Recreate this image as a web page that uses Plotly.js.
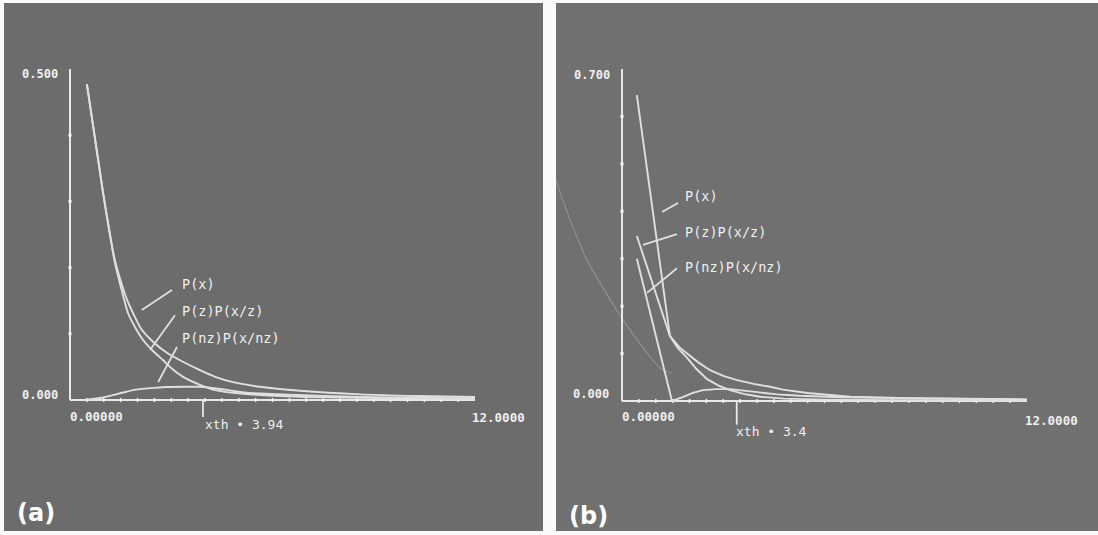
<!DOCTYPE html>
<html><head><meta charset="utf-8">
<script src="https://cdn.plot.ly/plotly-3.0.1.min.js"></script>
<style>html,body{margin:0;padding:0;background:#fafafa;}#chart{width:1098px;height:535px;}</style>
</head><body><div id="chart"></div>
<script>
// ---------- Panel (a) data ----------
const a_Px_x   = [0.50, 0.98, 1.33, 1.50, 1.70, 1.87, 2.10, 2.46, 2.85, 3.26, 3.85, 4.30, 4.83, 5.63, 6.81, 8.60, 10.3, 12.0];
const a_Px_y   = [0.477, 0.313, 0.211, 0.180, 0.150, 0.131, 0.108, 0.088, 0.072, 0.060, 0.045, 0.035, 0.027, 0.020, 0.014, 0.0085, 0.006, 0.0045];
const a_Pz_x   = [0.50, 0.98, 1.33, 1.50, 1.72, 1.95, 2.16, 2.46, 2.76, 3.05, 3.35, 3.85, 4.30, 4.83, 5.63, 7.0, 9.0, 12.0];
const a_Pz_y   = [0.477, 0.313, 0.208, 0.172, 0.131, 0.108, 0.091, 0.074, 0.060, 0.046, 0.035, 0.023, 0.015, 0.011, 0.0075, 0.0045, 0.003, 0.002];
const a_Pnz_x  = [0.44, 0.89, 1.40, 1.87, 2.40, 2.87, 3.40, 3.85, 4.40, 5.24, 6.5, 8.6, 10.5, 12.0];
const a_Pnz_y  = [0.0, 0.003, 0.009, 0.015, 0.018, 0.0196, 0.020, 0.020, 0.017, 0.011, 0.008, 0.0045, 0.003, 0.002];
const a_xth    = 3.94;
const a_ymax   = 0.5;
const a_yticks = [0.1, 0.2, 0.3, 0.4];
const a_labels = ["P(x)", "P(z)P(x/z)", "P(nz)P(x/nz)"];
const a_ptr_x  = [[3.02, 2.13], [3.11, 2.37], [3.17, 2.61]];
const a_ptr_y  = [[0.166, 0.136], [0.128, 0.0755], [0.080, 0.027]];

// ---------- Panel (b) data ----------
const b_Px_x   = [0.44, 1.42, 1.72, 1.93, 2.25, 2.61, 3.00, 3.41, 3.90, 4.39, 4.77, 5.5, 6.76, 8.5, 10.5, 12.0];
const b_Px_y   = [0.645, 0.137, 0.112, 0.100, 0.082, 0.065, 0.053, 0.044, 0.036, 0.030, 0.024, 0.017, 0.009, 0.006, 0.0045, 0.0035];
const b_Pz_x   = [0.44, 1.42, 1.65, 1.93, 2.20, 2.52, 2.85, 3.20, 3.60, 4.09, 4.8, 6.0, 8.0, 12.0];
const b_Pz_y   = [0.348, 0.137, 0.112, 0.091, 0.068, 0.046, 0.033, 0.023, 0.015, 0.009, 0.005, 0.003, 0.0015, 0.001];
const b_Pnz_x  = [0.44, 1.48, 1.80, 2.10, 2.40, 2.80, 3.20, 3.60, 4.09, 4.6, 5.27, 6.5, 8.2, 10.0, 12.0];
const b_Pnz_y  = [0.30, 0.0, 0.008, 0.017, 0.023, 0.025, 0.025, 0.022, 0.017, 0.014, 0.011, 0.008, 0.006, 0.004, 0.003];
const b_ghost_x = [-1.96, -1.50, -1.04, -0.65, 0.03, 0.83, 1.21, 1.48];
const b_ghost_y = [0.465, 0.375, 0.297, 0.249, 0.171, 0.093, 0.065, 0.059];
const b_xth    = 3.4;
const b_ymax   = 0.7;
const b_yticks = [0.1, 0.2, 0.3, 0.4, 0.5, 0.6];
const b_labels = ["P(x)", "P(z)P(x/z)", "P(nz)P(x/nz)"];
const b_ptr_x  = [[1.66, 1.185], [1.63, 0.622], [1.63, 0.741]];
const b_ptr_y  = [[0.4175, 0.3985], [0.352, 0.329], [0.280, 0.228]];

const xmax = 12;
const xticks = [];
for (let v = 0.5; v < xmax; v += 0.5) xticks.push(v);

const LINE = '#e0e0e0', AXIS = '#e8e8e8', TXT = '#efefef';
const MONO = 'DejaVu Sans Mono, monospace';

function tr(x, y, xa, ya, extra) {
  return Object.assign({type:'scatter', mode:'lines', x:x, y:y, xaxis:xa, yaxis:ya,
    hoverinfo:'skip', showlegend:false, line:{color:LINE, width:1.9}}, extra || {});
}

function panel(xa, ya, d) {
  const t = [];
  t.push(tr([0, 0], [0, d.ymax], xa, ya, {line:{color:AXIS, width:2}}));
  t.push(tr([0, xmax], [0, 0], xa, ya, {line:{color:AXIS, width:2}}));
  t.push({type:'scatter', mode:'markers', x:d.yticks.map(()=>0), y:d.yticks, xaxis:xa, yaxis:ya,
    hoverinfo:'skip', showlegend:false, marker:{symbol:'square', size:3, color:'#f6f6f6', line:{width:0}}});
  t.push({type:'scatter', mode:'markers', x:xticks, y:xticks.map(()=>0), xaxis:xa, yaxis:ya,
    hoverinfo:'skip', showlegend:false, marker:{symbol:'line-ns', size:3, line:{color:'#f0f0f0', width:1.5}}});
  t.push(tr([d.xth, d.xth], [0, d.xthLow], xa, ya, {line:{color:AXIS, width:1.8}}));
  d.series.forEach(s => t.push(tr(s[0], s[1], xa, ya, {line:{color:LINE, width:1.9, shape:s[2]||'linear', smoothing:0.6}})));
  d.ptrx.forEach((px, i) => t.push(tr(px, d.ptry[i], xa, ya, {line:{color:LINE, width:1.8}})));
  return t;
}

const traces = [].concat(
  panel('x', 'y', {ymax:a_ymax, yticks:a_yticks, xth:a_xth, xthLow:-0.0257,
    series:[[a_Px_x, a_Px_y, 'spline'], [a_Pz_x, a_Pz_y, 'spline'], [a_Pnz_x, a_Pnz_y, 'spline']],
    ptrx:a_ptr_x, ptry:a_ptr_y}),
  [tr(b_ghost_x, b_ghost_y, 'x2', 'y2', {line:{color:'#8e8e8e', width:1.2, shape:'spline', smoothing:0.6}})],
  panel('x2', 'y2', {ymax:b_ymax, yticks:b_yticks, xth:b_xth, xthLow:-0.05,
    series:[[b_Px_x, b_Px_y], [b_Pz_x, b_Pz_y], [b_Pnz_x, b_Pnz_y]],
    ptrx:b_ptr_x, ptry:b_ptr_y})
);

function ann(text, x, y, xr, yr, xanchor, size, extra) {
  return Object.assign({text:text, x:x, y:y, xref:xr, yref:yr, xanchor:xanchor, yanchor:'middle',
    showarrow:false, font:{family:MONO, size:size, color:TXT}}, extra || {});
}
const B = s => '<b>' + s + '</b>';

const annotations = [
  ann(B(a_ymax.toFixed(3)), -0.30, 0.4924, 'x', 'y', 'right', 12),
  ann(B((0).toFixed(3)), -0.30, 0.0076, 'x', 'y', 'right', 12),
  ann(B((0).toFixed(5)), -0.06, -0.0242, 'x', 'y', 'left', 12.5),
  ann(B(xmax.toFixed(4)), 11.85, -0.0264, 'x', 'y', 'left', 12.5),
  ann('xth \u2022 ' + a_xth, a_xth, -0.0363, 'x', 'y', 'left', 13),
  ann(a_labels[0], 3.26, 0.1752, 'x', 'y', 'left', 13.5),
  ann(a_labels[1], 3.26, 0.1344, 'x', 'y', 'left', 13.5),
  ann(a_labels[2], 3.26, 0.0944, 'x', 'y', 'left', 13.5),

  ann(B(b_ymax.toFixed(3)), -0.30, 0.6873, 'x2', 'y2', 'right', 12),
  ann(B((0).toFixed(3)), -0.33, 0.0148, 'x2', 'y2', 'right', 12),
  ann(B((0).toFixed(5)), -0.06, -0.0337, 'x2', 'y2', 'left', 12.5),
  ann(B(xmax.toFixed(4)), 11.88, -0.0401, 'x2', 'y2', 'left', 12.5),
  ann('xth \u2022 ' + b_xth, b_xth, -0.0633, 'x2', 'y2', 'left', 13, {xshift:-3}),
  ann(b_labels[0], 1.807, 0.4322, 'x2', 'y2', 'left', 13.5),
  ann(b_labels[1], 1.807, 0.3553, 'x2', 'y2', 'left', 13.5),
  ann(b_labels[2], 1.807, 0.2815, 'x2', 'y2', 'left', 13.5),

  {text:'<b>(a)</b>', x:15/1098, y:1-513/535, xref:'paper', yref:'paper', xanchor:'left', yanchor:'middle',
   showarrow:false, font:{family:'DejaVu Sans, sans-serif', size:24, color:'#ffffff'}},
  {text:'<b>(b)</b>', x:567/1098, y:1-516/535, xref:'paper', yref:'paper', xanchor:'left', yanchor:'middle',
   showarrow:false, font:{family:'DejaVu Sans, sans-serif', size:24, color:'#ffffff'}}
];

const ax = {showgrid:false, zeroline:false, showticklabels:false, showline:false, ticks:'', fixedrange:true};
const ydom = [1 - 531/535, 1 - 3/535];
const layout = {
  width:1098, height:535, margin:{l:0, r:0, t:0, b:0},
  paper_bgcolor:'#fafafa', plot_bgcolor:'rgba(0,0,0,0)', showlegend:false,
  xaxis: Object.assign({}, ax, {domain:[4/1098, 543/1098], range:[(4-70)/33.75, (543-70)/33.75]}),
  yaxis: Object.assign({}, ax, {domain:ydom, range:[(400-531)/662, (400-3)/662]}),
  xaxis2: Object.assign({}, ax, {domain:[556/1098, 1], range:[(556-622)/33.75, (1098-622)/33.75], anchor:'y2'}),
  yaxis2: Object.assign({}, ax, {domain:ydom, range:[(401-531)/474.3, (401-3)/474.3], anchor:'x2'}),
  shapes:[
    {type:'rect', xref:'paper', yref:'paper', x0:4/1098, x1:543/1098, y0:ydom[0], y1:ydom[1], fillcolor:'#6c6c6c', line:{width:0}, layer:'below'},
    {type:'rect', xref:'paper', yref:'paper', x0:556/1098, x1:1, y0:ydom[0], y1:ydom[1], fillcolor:'#707070', line:{width:0}, layer:'below'}
  ],
  annotations: annotations
};

Plotly.newPlot('chart', traces, layout, {staticPlot:true, displayModeBar:false});
</script></body></html>
